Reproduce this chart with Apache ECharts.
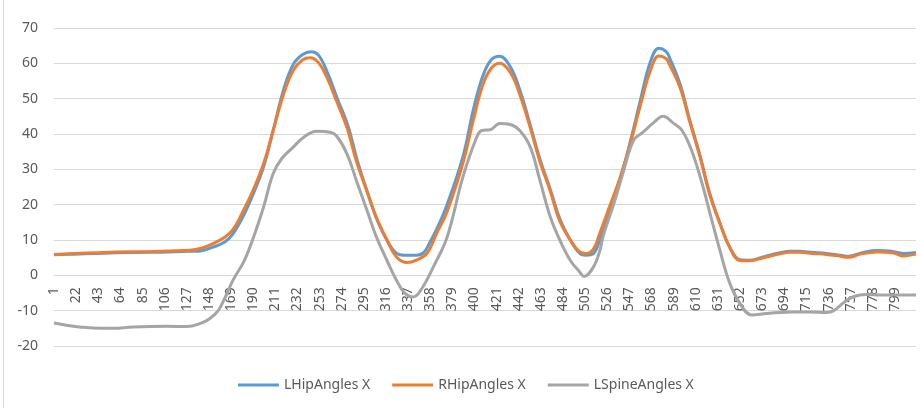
<!DOCTYPE html>
<html>
<head>
<meta charset="utf-8">
<script src="https://cdn.jsdelivr.net/npm/echarts@6/dist/echarts.min.js"></script>
<style>
html,body{margin:0;padding:0;background:#fff;}
#chart{width:921px;height:408px;}
</style>
</head>
<body>
<div id="chart"></div>
<script>
// Number of samples (frames) on the category axis
var sampleCount = 819;
var categories = [];
for (var s = 1; s <= sampleCount; s++) categories.push(String(s));

var seriesNames = ['LHipAngles X', 'RHipAngles X', 'LSpineAngles X'];

// [sample number, angle]
var lHip = [[1,5.8],[20,6.0],[40,6.2],[60,6.4],[90,6.5],[110,6.6],[130,6.8],[140,6.9],[152,8.0],[163,9.4],[171,11.8],[181,17],[190,23],[200,30.8],[209,41],[219,52.7],[228,59.7],[237,62.5],[245,63.3],[252,62.3],[261,57],[270,49.9],[280,42.3],[289,32.3],[299,23],[308,15.4],[318,9.4],[327,6.1],[336,5.7],[345,5.7],[352,6.5],[358,9.5],[364,13],[374,20],[389,33.5],[399,47],[408,56.5],[416,61],[424,62],[434,59],[443,52.5],[453,42.5],[462,33],[472,24.3],[481,16],[491,10],[500,6.2],[506,5.7],[513,6.2],[519,10],[528,17.8],[538,27],[548,38],[557,49],[567,60.5],[575,64.3],[582,63.3],[586,61],[595,54.2],[604,44.3],[614,34],[623,23.5],[633,14.8],[642,8.1],[652,4.4],[661,4.3],[671,4.9],[680,5.7],[690,6.4],[699,6.8],[709,6.8],[721,6.5],[734,6.2],[747,5.7],[755,5.4],[768,6.4],[782,7.0],[794,6.9],[807,6.2],[819,6.5]];

var rHip = [[1,5.9],[20,6.2],[40,6.4],[60,6.6],[90,6.7],[110,6.9],[130,7.1],[140,7.6],[152,9.0],[163,10.8],[171,13.0],[181,18.5],[190,24.1],[200,31.7],[209,41],[219,51.4],[228,58],[237,61],[244,61.6],[252,60.2],[260,56],[269,49.4],[279,41.8],[288,32.3],[298,23.8],[307,16.3],[317,10],[326,5.2],[336,3.6],[345,4.3],[355,6.2],[364,11.8],[374,18],[389,31.7],[399,44],[408,54],[416,58.6],[424,60],[434,57.4],[443,51.2],[453,41.7],[462,32.3],[472,23.8],[481,15.3],[491,10],[500,6.6],[506,6.2],[513,7.5],[519,12],[528,19.3],[538,27.5],[548,37.3],[557,47.6],[567,58],[575,62.1],[582,61.3],[585,59.7],[595,53.2],[604,43.8],[614,33.5],[623,23.1],[633,14.6],[642,8.1],[652,4.2],[661,4.1],[671,4.7],[680,5.4],[690,6.1],[699,6.5],[709,6.5],[721,6.2],[734,5.9],[744,5.6],[755,5.1],[766,6.0],[782,6.6],[798,6.3],[807,5.5],[819,6.0]];

var lSpine = [[1,-13.5],[13,-14.1],[25,-14.6],[45,-15],[57,-15],[76,-14.6],[108,-14.4],[127,-14.5],[140,-13.6],[149,-12.2],[157,-9.9],[163,-6.5],[171,-1.3],[181,3.8],[190,10.5],[200,19.5],[209,28.8],[217,33],[228,36.3],[238,39.1],[250,40.8],[263,40.5],[269,39.5],[279,34.4],[288,26.8],[298,18.4],[307,10.8],[317,4.2],[326,-1.4],[334,-5.1],[342,-6.1],[351,-3.3],[361,2.4],[374,10.8],[389,27.8],[402,39],[407,41],[415,41.2],[424,43],[434,42.7],[443,41],[453,36.3],[462,27],[472,16.5],[481,10],[491,4.2],[500,0.9],[504,-0.3],[513,2.4],[519,7],[522,11],[532,20],[541,29],[551,38.2],[560,40.5],[570,43.2],[579,45],[589,43],[597,41],[606,35.4],[616,26],[624,17],[633,7],[642,-2],[652,-8],[663,-11.2],[677,-10.8],[690,-10.5],[702,-10.4],[718,-10.4],[734,-10.5],[741,-10],[750,-7.8],[760,-6],[772,-5.4],[785,-5.6],[800,-5.6],[819,-5.6]];

var yTicks = {min: -20, max: 70, step: 10};
var colors = ['#5B9BD5', '#ED7D31', '#A5A5A5'];

function toIdx(arr) {
  return arr.map(function (p) { return [p[0] - 1, p[1]]; });
}

var chart = echarts.init(document.getElementById('chart'), null, {renderer: 'canvas'});
var fontFam = 'Noto Sans';
var gridTop = 28, gridBottom = 62, chartH = 408;
var plotH = chartH - gridTop - gridBottom;
// distance (px) from plot bottom up to the value 0
var zeroOffset = plotH * (0 - yTicks.min) / (yTicks.max - yTicks.min);
var mk = function (name, data, color) {
  return {
    name: name, type: 'line', data: toIdx(data), symbol: 'none',
    smooth: 0.4,
    lineStyle: {color: color, width: 3}, itemStyle: {color: color},
    animation: false
  };
};
chart.setOption({
  animation: false,
  graphic: [{type: 'line', shape: {x1: 3.5, y1: 0, x2: 3.5, y2: 408}, style: {stroke: '#D9D9D9', lineWidth: 1}}],
  grid: {left: 54, right: 5, top: gridTop, bottom: gridBottom, containLabel: false},
  legend: {
    data: seriesNames, left: 238, top: 378, padding: 0, icon: 'rect', itemWidth: 41, itemHeight: 3, itemGap: 22,
    textStyle: {color: '#595959', fontSize: 14, fontFamily: fontFam}
  },
  xAxis: {
    type: 'category', data: categories, boundaryGap: false, position: 'bottom',
    offset: -zeroOffset,
    axisLine: {onZero: false, lineStyle: {color: '#D9D9D9'}},
    axisTick: {show: false},
    axisLabel: {interval: 20, rotate: 90, margin: 12, color: '#595959', fontSize: 14, fontFamily: fontFam},
    splitLine: {show: false}
  },
  yAxis: {
    type: 'value', min: yTicks.min, max: yTicks.max, interval: yTicks.step,
    axisLine: {show: false}, axisTick: {show: false},
    axisLabel: {color: '#595959', fontSize: 14, fontFamily: fontFam, margin: 16},
    splitLine: {lineStyle: {color: '#D9D9D9', width: 1}}
  },
  series: [mk(seriesNames[0], lHip, colors[0]), mk(seriesNames[1], rHip, colors[1]), mk(seriesNames[2], lSpine, colors[2])]
});
</script>
</body>
</html>
